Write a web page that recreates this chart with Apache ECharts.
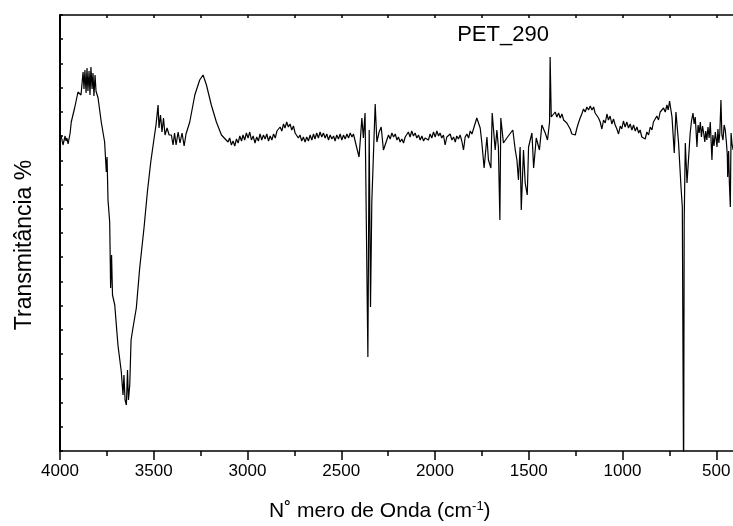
<!DOCTYPE html>
<html>
<head>
<meta charset="utf-8">
<script src="https://cdn.jsdelivr.net/npm/echarts@6/dist/echarts.min.js"></script>
<style>
html,body{margin:0;padding:0;background:#fff;}
#chart{width:733px;height:526px;}
</style>
</head>
<body>
<div id="chart"></div>
<script>
// Spectrum: wavenumber (cm^-1) and transmittance (arbitrary units)
// Region 1: 4000 - 3140
var wnA = [4000,3995,3989,3984,3979,3973,3968,3963,3957,3952,3946,3940,3922,3904,3888,3877,3872,3867,3861,3856,3851,3845,3840,3835,3829,3824,3819,3813,3808,3797,3780,3762,3753,3749,3744,3735,3730,3725,3720,3708,3691,3673,3664,3659,3653,3646,3640,3635,3628,3621,3611,3593,3575,3552,3534,3516,3498,3488,3477,3472,3464,3456,3448,3440,3429,3418,3406,3397,3389,3381,3370,3360,3349,3338,3328,3308,3281,3255,3237,3219,3193,3166,3139];
var tA  = [311,316,314,306,308,315,310,313,307,309,318,329,343,359,356,379,362,381,358,383,360,380,356,384,362,378,355,376,360,353,329,309,279,294,251,229,163,196,156,146,106,79,56,76,51,46,81,51,66,111,123,143,183,223,259,289,313,326,346,323,336,319,333,316,323,316,316,306,318,306,319,308,318,305,317,329,356,371,376,366,346,329,316];
// Region 2: 3104 - 2435
var wnB = [3104,3095,3086,3077,3068,3059,3050,3041,3032,3024,3015,3006,2997,2988,2979,2970,2960,2951,2942,2933,2924,2915,2906,2897,2888,2879,2870,2861,2852,2843,2835,2826,2817,2808,2800,2791,2782,2773,2764,2755,2746,2737,2729,2720,2711,2702,2693,2684,2675,2666,2657,2648,2640,2631,2622,2613,2604,2595,2586,2577,2568,2559,2550,2541,2533,2524,2515,2506,2497,2488,2479,2470,2461,2452,2443,2435];
var tB  = [309,313,306,310,305,312,308,315,310,316,311,318,313,319,311,315,308,314,310,317,311,316,312,317,310,315,311,317,313,320,318,324,320,327,323,329,324,327,321,325,318,320,313,316,310,314,309,314,310,316,311,317,312,318,313,319,314,318,313,317,311,316,312,315,310,316,312,317,311,316,312,317,313,318,314,317];
// Region 3: CO2 doublet 2417 - 2275
var wnC = [2417,2405,2390,2382,2373,2358,2351,2344,2337,2326,2319,2310,2298,2287,2275];
var tC  = [303,294,333,313,338,94,321,144,249,309,347,309,319,324,301];
// Region 4: 2248 - 1803
var wnD = [2248,2239,2230,2221,2212,2203,2195,2186,2177,2168,2159,2150,2142,2133,2124,2115,2106,2097,2088,2079,2070,2061,2053,2044,2035,2026,2017,2008,1999,1990,1981,1973,1964,1955,1946,1937,1928,1919,1910,1901,1892,1884,1875,1866,1857,1848,1839,1830,1821,1812,1803];
var tD  = [316,312,318,314,317,311,314,309,312,308,314,316,319,314,320,315,318,313,316,311,315,310,313,315,311,317,313,319,314,320,315,318,313,316,306,314,312,317,311,314,309,315,312,316,310,301,314,317,313,320,317];
// Region 5: 1777 - 1380
var wnE = [1777,1759,1750,1738,1723,1715,1702,1695,1679,1670,1662,1654,1649,1635,1617,1585,1572,1563,1555,1546,1540,1528,1519,1508,1501,1483,1474,1460,1443,1430,1412,1400,1389,1386,1380];
var tE  = [333,323,308,283,314,291,283,338,301,321,304,231,333,308,313,321,301,291,271,304,241,301,268,256,304,318,283,313,301,326,318,311,329,394,334];
// Region 6: 1370 - 749
var wnF = [1370,1359,1350,1341,1332,1323,1314,1305,1297,1288,1279,1270,1261,1252,1243,1235,1226,1217,1208,1199,1190,1181,1172,1163,1154,1146,1137,1128,1119,1110,1101,1092,1083,1075,1066,1057,1048,1039,1030,1021,1012,1004,995,986,977,968,959,950,941,932,923,914,906,897,888,879,870,861,852,843,835,826,817,808,799,790,781,772,763,756,749];
var tF  = [336,339,334,338,333,337,331,333,328,325,322,317,319,316,323,328,333,337,342,339,344,341,345,341,344,338,340,333,329,322,331,328,337,331,335,327,332,326,322,317,325,322,330,324,329,323,327,321,326,320,324,318,321,314,316,312,319,316,324,321,329,327,335,331,339,337,343,339,346,341,350];
// Region 7: 736 - 410
var wnG = [736,724,715,701,688,681,674,671,665,656,639,632,624,618,612,607,603,597,591,585,579,573,567,561,556,550,544,538,532,527,523,518,512,505,500,496,491,486,481,475,470,464,458,452,446,441,439,434,430,425,421,416,410];
var tG  = [334,298,339,308,264,244,-40,230,308,268,318,330,338,327,334,318,304,326,318,329,314,325,318,309,320,311,324,313,329,308,291,316,305,319,311,304,322,308,318,351,316,311,326,321,309,296,274,300,268,244,318,307,301];

var majorTicks = [500,1000,1500,2000,2500,3000,3500,4000];
var minorTicks = [750,1250,1750,2250,2750,3250,3750];
var topTicks = [500,750,1000,1250,1500,1750,2000,2250,2500,2750,3000,3250,3500,3750,4000];
var sampleName = 'PET_290';
var xTitle = 'N˚ mero de Onda (cm';
var yTitle = 'Transmitância %';

var wavenumber = [].concat(wnA, wnB, wnC, wnD, wnE, wnF, wnG);
var transmittance = [].concat(tA, tB, tC, tD, tE, tF, tG);
var seriesData = wavenumber.map(function (w, i) { return [w, transmittance[i]]; });

var chart = echarts.init(document.getElementById('chart'), null, {renderer: 'canvas'});
var font = 'Liberation Sans, Arial, sans-serif';
var xBase = {type: 'value', inverse: true, min: 400, max: 4000, gridIndex: 0, splitLine: {show: false}};
chart.setOption({
  animation: false,
  backgroundColor: '#fff',
  grid: {left: 60, top: 15, width: 675, height: 436, containLabel: false, outerBoundsMode: 'none'},
  xAxis: [
    Object.assign({}, xBase, {
      position: 'bottom',
      axisLine: {show: true, onZero: false, lineStyle: {color: '#000', width: 1.5}},
      axisTick: {show: true, inside: false, length: 9, customValues: majorTicks, lineStyle: {color: '#000', width: 1.5}},
      axisLabel: {show: true, customValues: majorTicks, margin: 12, color: '#000', fontSize: 17, fontFamily: font,
        formatter: function (v) { return String(v); }}
    }),
    Object.assign({}, xBase, {
      position: 'bottom',
      axisLine: {show: false, onZero: false},
      axisTick: {show: true, inside: false, length: 5, customValues: minorTicks, lineStyle: {color: '#000', width: 1.5}},
      axisLabel: {show: false}
    }),
    Object.assign({}, xBase, {
      position: 'top',
      axisLine: {show: true, onZero: false, lineStyle: {color: '#000', width: 1.5}},
      axisTick: {show: true, inside: true, length: 3, customValues: topTicks, lineStyle: {color: '#000', width: 1.5}},
      axisLabel: {show: false}
    })
  ],
  yAxis: [{
    type: 'value', min: 0, max: 436, interval: 436 / 18, position: 'left',
    splitLine: {show: false},
    axisLine: {show: true, onZero: false, lineStyle: {color: '#000', width: 2}},
    axisTick: {show: true, inside: true, length: 3, lineStyle: {color: '#000', width: 1.5}},
    axisLabel: {show: false}
  }],
  graphic: [
    {type: 'text', left: 269, top: 500, silent: true, style: {
      text: xTitle + '{sup|-1})', fill: '#000', font: '21px ' + font,
      rich: {sup: {fontSize: 13, verticalAlign: 'top', padding: [0, 0, 10, 0], fill: '#000', fontFamily: font}}
    }},
    {type: 'text', x: 25, y: 245, rotation: Math.PI / 2, silent: true, style: {
      text: yTitle, fill: '#000', font: '23px ' + font, align: 'center', verticalAlign: 'middle'
    }},
    {type: 'text', x: 503, y: 35, silent: true, style: {
      text: sampleName, fill: '#000', font: '22px ' + font, align: 'center', verticalAlign: 'middle'
    }}
  ],
  series: [{
    type: 'line', xAxisIndex: 0, yAxisIndex: 0, data: seriesData,
    showSymbol: false, symbol: 'none', clip: true,
    lineStyle: {color: '#000', width: 1.2}
  }]
});
</script>
</body>
</html>
